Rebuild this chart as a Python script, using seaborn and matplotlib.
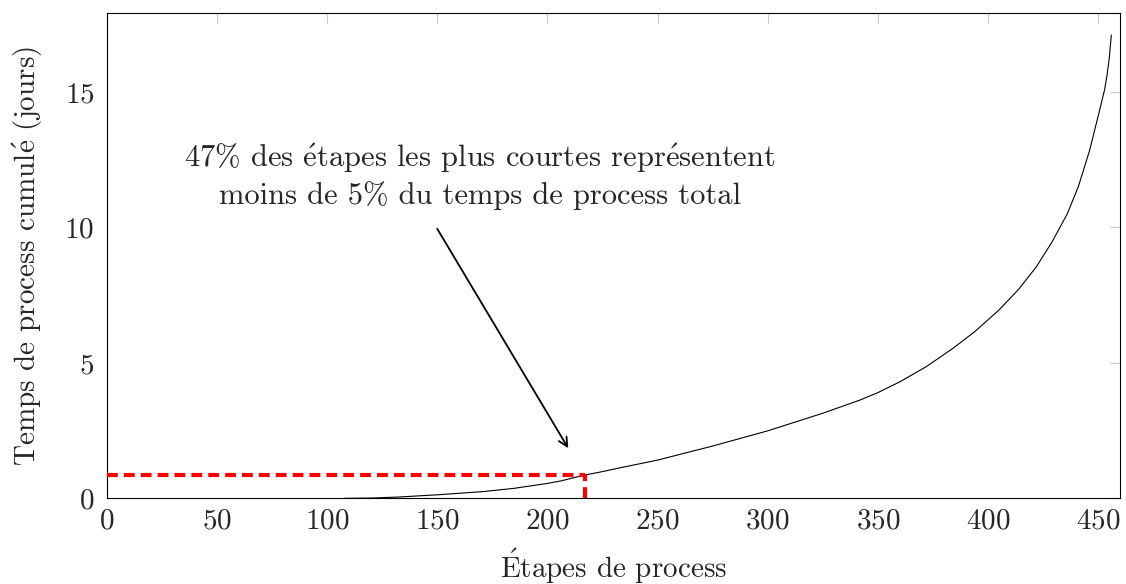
import matplotlib
matplotlib.use("Agg")
import matplotlib.pyplot as plt
import seaborn as sns
import pandas as pd

# Cumulative process time (days) against process steps sorted by duration
steps = [108, 120, 133, 150, 171, 185, 200, 206, 217, 224, 235, 250, 275,
         300, 325, 342, 350, 360, 372, 384, 394, 405, 414, 422, 429, 436,
         441, 446, 450, 453, 454, 455, 456]
cumul_days = [0.0, 0.01, 0.05, 0.13, 0.25, 0.37, 0.55, 0.64, 0.86, 0.97,
              1.16, 1.41, 1.93, 2.49, 3.14, 3.63, 3.9, 4.3, 4.86, 5.53,
              6.15, 6.95, 7.72, 8.55, 9.45, 10.5, 11.5, 12.8, 14.1, 15.1,
              15.6, 16.2, 17.1]

cutoff_step = 217
cutoff_days = 0.86

x_ticks = [0, 50, 100, 150, 200, 250, 300, 350, 400, 450]
y_ticks = [0, 5, 10, 15]

# accented letters typeset through mathtext so they share the Computer Modern face
e_acute = r"$\acute{\mathrm{e}}$"
E_acute = r"$\acute{\mathrm{E}}$"

note = (f"47% des {e_acute}tapes les plus courtes repr{e_acute}sentent\n"
        "moins de 5% du temps de process total")
x_label = f"{E_acute}tapes de process"
y_label = f"Temps de process cumul{e_acute} (jours)"

sns.set_style("white")
plt.rcParams["font.family"] = ["cmr10", "DejaVu Serif"]
plt.rcParams["axes.formatter.use_mathtext"] = True
plt.rcParams["mathtext.fontset"] = "cm"

fig = plt.figure(figsize=(11.26, 5.84), dpi=100)
ax = fig.add_axes([0.0948, 0.1467, 0.9, 0.8305])

df = pd.DataFrame({"step": steps, "days": cumul_days})
sns.lineplot(data=df, x="step", y="days", ax=ax, color="black", lw=0.8)

dash = (0, (2.6, 1.45))
ax.plot([0, cutoff_step], [cutoff_days, cutoff_days], color="red", lw=3,
        linestyle=dash, dash_capstyle="butt", zorder=3)
ax.plot([cutoff_step, cutoff_step], [0, cutoff_days], color="red", lw=3,
        linestyle=dash, dash_capstyle="butt", zorder=3)

ax.annotate("", xy=(209.5, 1.85), xytext=(150, 9.95),
            arrowprops=dict(arrowstyle="->", lw=1.3, color="black",
                            mutation_scale=16, shrinkA=0, shrinkB=0))
ax.text(169.5, 11.9, note, ha="center", va="center", fontsize=22,
        linespacing=1.27)

ax.set_xlim(0, 460)
ax.set_ylim(0, 17.9)
ax.set_xticks(x_ticks)
ax.set_yticks(y_ticks)
ax.tick_params(direction="in", length=7, width=0.8, color="#c8c8c8",
               top=True, right=True, labelsize=21)
ax.tick_params(axis="x", pad=7)
ax.tick_params(axis="y", pad=9)
for s in ax.spines.values():
    s.set_color("black")
    s.set_linewidth(0.8)

ax.set_xlabel(x_label, fontsize=21, labelpad=9)
ax.set_ylabel(y_label, fontsize=21, labelpad=14)

fig.savefig("out.png", dpi=100)
